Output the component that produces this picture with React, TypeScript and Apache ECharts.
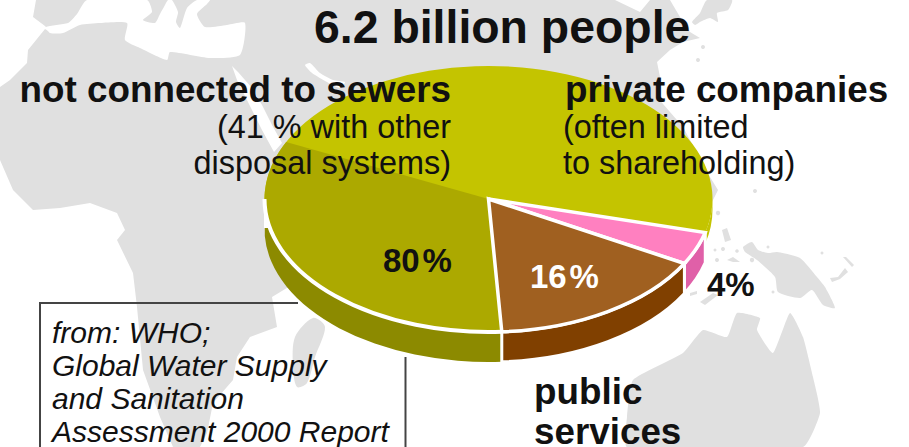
import React, { useEffect, useRef } from "react";
import * as echarts from "echarts";

// Who provides sewerage for the world's 6.2 billion people (percent of population).
const categories = ["private companies", "public services", "not connected to sewers"];
const shares = [4, 16, 80];
// Part of the sewerless slice drawn in the darker tone.
const shadedShare = 33;

const titleText = "6.2 billion people";
const sewerNote = ["(41 % with other", "disposal systems)"];
const privateNote = ["(often limited", "to shareholding)"];
const sourceLines = ["from: WHO;", "Global Water Supply", "and Sanitation", "Assessment 2000 Report"];

// Pie geometry: an ellipse seen from above, with a wall below it.
const CX = 488.5;
const CY = 199;
const RX = 224;
const RY = 133;
const DEPTH = 30;
const START_DEG = 14.6;

const FONT = '"Liberation Sans", Arial, sans-serif';
const LAND = "#e0e0e0";
const ASCENT = 0.84;

const topColors = ["#ff80c0", "#a06020", "#c4c400"];
const wallColors = ["#e060a8", "#804000", "#8c8a00"];
const shadeColor = "#aca900";
const percentLabelAnchors = [
  { x: 707, y: 296, fill: "#111111", gap: "" },
  { x: 530, y: 288, fill: "#ffffff", gap: "\u200a" },
  { x: 383, y: 272, fill: "#111111", gap: "\u200a" },
];

// Outlines of the backdrop map, in page pixels.
const afroEurasia = [
  [36, 0], [615, 0], [640, 12], [650, 0], [670, 0], [680, 17], [690, 32], [700, 38], [683, 42], [670, 50],
  [657, 62], [660, 77], [657, 97], [683, 127], [710, 177], [718, 190], [713, 200], [700, 225], [500, 300],
  [300, 280], [272, 297], [277, 327], [250, 337], [237, 357], [233, 380], [213, 403], [207, 433], [200, 447],
  [173, 447], [160, 417], [143, 370], [137, 307], [133, 273], [117, 240], [125, 230], [117, 213], [90, 203],
  [60, 208], [33, 210], [13, 190], [0, 160], [0, 87], [10, 80], [27, 63], [28, 50], [45, 29], [50, 32],
  [45, 26], [33, 17],
];
const mediterranean = [
  [46, 27], [68, 23], [77, 14], [87, 0], [147, 0], [152, 12], [143, 20], [155, 23], [160, 14], [165, 5], [168, 0],
  [172, 0], [178, 12], [176, 22], [180, 28], [187, 8], [197, 0], [210, 0], [207, 4], [197, 14], [205, 27], [227, 25],
  [245, 23], [240, 55], [210, 58], [170, 52], [167, 60], [140, 48], [125, 40], [127, 23], [100, 23], [80, 25], [63, 33], [50, 33],
];
const redSea = [
  [232, 66], [238, 72], [252, 88], [262, 105], [272, 125], [282, 143], [274, 152], [262, 130], [252, 110], [243, 92], [237, 80],
];
const persianGulf = [[305, 65], [310, 63], [320, 73], [333, 80], [345, 82], [340, 88], [327, 82], [312, 73]];
const madagascar = [[325, 327], [313, 318], [295, 337], [293, 367], [297, 387], [307, 383], [315, 357]];
const australia = [
  [627, 447], [627, 417], [633, 380], [683, 353], [703, 330], [727, 337], [737, 313], [760, 318], [757, 330],
  [773, 353], [790, 313], [803, 337], [813, 377], [820, 413], [803, 447],
];
const newGuinea = [
  [743, 247], [752, 242], [758, 250], [768, 253], [777, 252], [800, 258], [817, 277], [825, 287], [835, 308],
  [823, 305], [812, 290], [800, 298], [778, 292], [775, 277], [757, 260], [745, 252],
];
const koreaJapan = [
  [692, 22], [700, 13], [707, 0], [732, 0], [728, 10], [717, 13], [718, 22], [710, 18], [700, 22], [695, 25],
];
const smallIslands = [
  [[830, 278], [838, 277], [845, 268], [848, 272], [840, 279], [832, 282]],
  [[843, 257], [846, 257], [854, 265], [852, 267]],
  [[722, 230], [727, 228], [731, 240], [725, 242]],
  [[727, 260], [733, 257], [740, 262], [733, 262]],
  [[700, 302], [713, 293], [718, 295], [705, 305]],
  [[690, 293], [697, 291], [697, 294], [690, 296]],
];
const islandDots = [
  [703, 47, 2], [698, 60, 2], [755, 191, 2], [718, 213, 2.2], [717, 260, 2], [752, 260, 2.2], [715, 250, 1.5],
  [723, 249, 2], [737, 251, 1.8], [768, 247, 1.5], [822, 253, 1.5], [773, 292, 1.5],
];

const point = (deg: number, rx: number, ry: number, dy = 0) => {
  const t = (deg * Math.PI) / 180;
  return [CX + rx * Math.cos(t), CY + dy + ry * Math.sin(t)];
};
const fmt = (p: number[]) => `${p[0].toFixed(2)} ${p[1].toFixed(2)}`;

const sectorPath = (a0: number, a1: number) => {
  const large = a1 - a0 > 180 ? 1 : 0;
  return `M ${CX} ${CY} L ${fmt(point(a0, RX, RY))} A ${RX} ${RY} 0 ${large} 1 ${fmt(point(a1, RX, RY))} Z`;
};
const arcPath = (a0: number, a1: number) =>
  `M ${fmt(point(a0, RX, RY))} A ${RX} ${RY} 0 0 1 ${fmt(point(a1, RX, RY))}`;
const wallPath = (a0: number, a1: number, depth: number) =>
  `M ${fmt(point(a0, RX, RY))} A ${RX} ${RY} 0 0 1 ${fmt(point(a1, RX, RY))} ` +
  `L ${fmt(point(a1, RX, RY, depth))} A ${RX} ${RY} 0 0 0 ${fmt(point(a0, RX, RY, depth))} Z`;

// Start angle of every slice, walking clockwise on screen.
const sliceStarts = shares.map((_, i) =>
  START_DEG + (shares.slice(0, i).reduce((a, b) => a + b, 0) / 100) * 360,
);

const renderSlice = (params: any, api: any) => {
  const i = params.dataIndex;
  const share = api.value(0);
  const a0 = sliceStarts[i];
  const a1 = a0 + (share / 100) * 360;
  const white = "#ffffff";
  const children: any[] = [];
  const path = (d: string, style: any, z2: number) => ({
    type: "path",
    shape: { pathData: d },
    style: { lineJoin: "miter", ...style },
    z2,
  });

  if (i === 2) {
    const wallEnd = 177;
    const shadeEnd = a0 + (shadedShare / 100) * 360;
    children.push(path(wallPath(a0, wallEnd, DEPTH), { fill: wallColors[i] }, 1));
    children.push(path(wallPath(0, START_DEG, 11), { fill: topColors[i] }, 1));
    children.push(path(sectorPath(a0, a1), { fill: topColors[i] }, 3));
    children.push(path(sectorPath(a0, shadeEnd), { fill: shadeColor }, 4));
    children.push(path(arcPath(a0, 180), { fill: "none", stroke: white, lineWidth: 4 }, 5));
    const left = point(180, RX, RY);
    children.push({
      type: "line",
      shape: { x1: left[0] + 2, y1: left[1], x2: left[0] + 2, y2: left[1] + DEPTH - 1 },
      style: { stroke: white, lineWidth: 5 },
      z2: 2,
    });
  } else {
    children.push(path(wallPath(a0, a1, DEPTH), { fill: wallColors[i], stroke: white, lineWidth: 3 }, 2));
    children.push(path(sectorPath(a0, a1), { fill: topColors[i], stroke: white, lineWidth: 3.5 }, 6 + i));
  }

  const anchor = percentLabelAnchors[i];
  children.push({
    type: "text",
    style: {
      text: `${share}${anchor.gap}%`,
      x: anchor.x,
      y: anchor.y - 33 * ASCENT,
      fill: anchor.fill,
      font: `bold 33px ${FONT}`,
      align: "left",
      verticalAlign: "top",
    },
    z2: 20,
  });
  return { type: "group", children };
};

// Places a caption by its baseline.
const label = (text: string, x: number, baseline: number, weight: string, size: number, align = "left") => ({
  type: "text",
  z: 10,
  style: {
    text,
    x,
    y: baseline - size * ASCENT,
    font: `${weight} ${size}px ${FONT}`,
    fill: "#111111",
    align,
    verticalAlign: "top",
  },
});

const land = (points: number[][], fill = LAND, smooth = 0) => ({
  type: "polygon",
  z: 0,
  shape: { points, smooth },
  style: { fill },
});

const backdrop = [
  land(afroEurasia),
  land(mediterranean, "#ffffff", 0.2),
  land(redSea, "#ffffff"),
  land(persianGulf, "#ffffff", 0.2),
  land(madagascar, LAND, 0.3),
  land(australia, LAND, 0.15),
  land(newGuinea, LAND, 0.2),
  land(koreaJapan, LAND, 0.2),
  ...smallIslands.map((s) => land(s)),
  ...islandDots.map(([cx, cy, r]) => ({
    type: "circle",
    z: 0,
    shape: { cx, cy, r },
    style: { fill: LAND },
  })),
];

const sourceFrame = [
  {
    type: "polyline",
    z: 1,
    shape: { points: [[40, 447], [40, 303], [298, 303]] },
    style: { stroke: "#444444", lineWidth: 2, fill: "none" },
  },
  {
    type: "line",
    z: 1,
    shape: { x1: 405.5, y1: 357, x2: 405.5, y2: 447 },
    style: { stroke: "#444444", lineWidth: 2 },
  },
];

const captions = [
  label(titleText, 314, 43, "bold", 46.4),
  label(categories[2], 451, 102, "bold", 36.8, "right"),
  label(sewerNote[0], 451, 138, "normal", 32.4, "right"),
  label(sewerNote[1], 451, 174, "normal", 32.4, "right"),
  label(categories[0], 565, 102, "bold", 36.8),
  label(privateNote[0], 563, 138, "normal", 32.4),
  label(privateNote[1], 563, 174, "normal", 32.4),
  label(categories[1].split(" ")[0], 534, 404, "bold", 36.8),
  label(categories[1].split(" ")[1], 534, 444, "bold", 36.8),
  ...sourceLines.map((line, i) => label(line, 52, 343 + i * 33, "italic", 30)),
];

export default function App() {
  const ref = useRef<HTMLDivElement>(null);

  useEffect(() => {
    const chart = echarts.init(ref.current!, undefined, { renderer: "svg" });
    chart.setOption({
      animation: false,
      backgroundColor: "#ffffff",
      graphic: { elements: [...backdrop, ...sourceFrame, ...captions] },
      series: [
        {
          type: "custom",
          coordinateSystem: "none",
          silent: true,
          z: 2,
          data: categories.map((name, i) => ({ name, value: [shares[i]] })),
          renderItem: renderSlice,
        },
      ],
    });
    return () => chart.dispose();
  }, []);

  return <div ref={ref} style={{ position: "absolute", left: 0, top: 0, width: 909, height: 447 }} />;
}
